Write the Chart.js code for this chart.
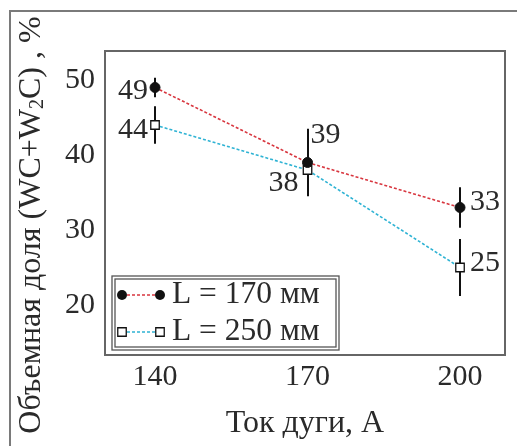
<!DOCTYPE html>
<html>
<head>
<meta charset="utf-8">
<script src="https://cdn.jsdelivr.net/npm/chart.js@4.4.1/dist/chart.umd.min.js"></script>
<style>
  body { margin: 0; background: #fff; }
</style>
</head>
<body>
<canvas id="chart" width="517" height="446"></canvas>
<script>
// arc current, A
const currents = [140, 170, 200];
// volume fraction (WC+W2C), %
const seriesL170 = [49, 39, 33];
const seriesL250 = [44, 38, 25];
// error bar half widths
const errL170 = [1.3, 4.5, 2.7];
const errL250 = [2.5, 1.5, 3.8];
const seriesNames = ['L = 170 мм', 'L = 250 мм'];
const xTicks = [140, 170, 200];
const yTicks = [20, 30, 40, 50];

// label offsets (px) from the point, with alignment
const labelOffsets = [
  [[-7, 4, 'right'], [3, -27, 'left'], [10, -5, 'left']],
  [[-7, 5, 'right'], [-9, 13, 'right'], [10, -4, 'left']]
];

const serif = '"Liberation Serif", "DejaVu Serif", serif';
const textColor = '#2a2a2a';

function toPoints(vals) {
  return currents.map((c, i) => ({ x: c, y: vals[i] }));
}

const errors = [errL170, errL250];

const decor = {
  id: 'decor',
  beforeDatasetsDraw(chart) {
    const ctx = chart.ctx;
    const xs = chart.scales.x, ys = chart.scales.y;
    ctx.save();
    ctx.strokeStyle = '#111';
    ctx.lineWidth = 2;
    chart.data.datasets.forEach((ds, di) => {
      ds.data.forEach((p, i) => {
        const e = errors[di][i];
        const px = Math.round(xs.getPixelForValue(p.x));
        ctx.beginPath();
        ctx.moveTo(px, ys.getPixelForValue(p.y + e));
        ctx.lineTo(px, ys.getPixelForValue(p.y - e));
        ctx.stroke();
      });
    });
    ctx.restore();
  },
  afterDraw(chart) {
    const ctx = chart.ctx;
    const a = chart.chartArea;
    const xs = chart.scales.x, ys = chart.scales.y;
    ctx.save();

    // outer frame
    ctx.strokeStyle = '#7a7a7a';
    ctx.lineWidth = 2;
    ctx.strokeRect(10, 11, 530, 460);

    // plot box
    ctx.strokeStyle = '#666';
    ctx.lineWidth = 2;
    ctx.strokeRect(a.left, a.top, a.right - a.left, a.bottom - a.top);

    // value labels
    ctx.fillStyle = textColor;
    ctx.font = '30px ' + serif;
    ctx.textBaseline = 'middle';
    chart.data.datasets.forEach((ds, di) => {
      ds.data.forEach((p, i) => {
        const o = labelOffsets[di][i];
        ctx.textAlign = o[2];
        ctx.fillText(String(p.y), xs.getPixelForValue(p.x) + o[0], ys.getPixelForValue(p.y) + o[1]);
      });
    });

    // legend
    const lx = 112, ly = 276, lw = 227, lh = 74;
    ctx.strokeStyle = '#555';
    ctx.lineWidth = 1.3;
    ctx.strokeRect(lx, ly, lw, lh);
    ctx.strokeRect(lx + 3, ly + 3, lw - 6, lh - 6);
    chart.data.datasets.forEach((ds, di) => {
      const y = 295 + di * 37;
      const x0 = 122, x1 = 160;
      ctx.save();
      ctx.strokeStyle = ds.borderColor;
      ctx.lineWidth = ds.borderWidth;
      ctx.setLineDash(ds.borderDash);
      ctx.beginPath();
      ctx.moveTo(x0, y);
      ctx.lineTo(x1, y);
      ctx.stroke();
      ctx.restore();
      [x0, x1].forEach(x => {
        ctx.beginPath();
        if (ds.pointStyle === 'circle') {
          ctx.arc(x, y, ds.pointRadius, 0, Math.PI * 2);
          ctx.fillStyle = ds.pointBackgroundColor;
          ctx.fill();
        } else {
          const s = ds.pointRadius * Math.SQRT1_2;
          ctx.rect(x - s, y - s, 2 * s, 2 * s);
          ctx.fillStyle = ds.pointBackgroundColor;
          ctx.fill();
          ctx.strokeStyle = ds.pointBorderColor;
          ctx.lineWidth = ds.pointBorderWidth;
          ctx.stroke();
        }
      });
      ctx.fillStyle = textColor;
      ctx.font = '31.5px ' + serif;
      ctx.textAlign = 'left';
      ctx.textBaseline = 'middle';
      ctx.fillText(ds.label, 172, y);
    });

    // y axis title with subscript
    const parts = [['Объемная доля (WC+W', 32, 0], ['2', 20, 6], ['C) , %', 32, 0]];
    let total = 0;
    parts.forEach(pt => { ctx.font = pt[1] + 'px ' + serif; total += ctx.measureText(pt[0]).width; });
    ctx.translate(32, 225);
    ctx.rotate(-Math.PI / 2);
    ctx.textAlign = 'left';
    ctx.textBaseline = 'middle';
    let cx = -total / 2;
    parts.forEach(pt => {
      ctx.font = pt[1] + 'px ' + serif;
      ctx.fillText(pt[0], cx, pt[2]);
      cx += ctx.measureText(pt[0]).width;
    });
    ctx.restore();
  }
};

new Chart(document.getElementById('chart'), {
  type: 'line',
  data: {
    datasets: [
      {
        label: seriesNames[0],
        data: toPoints(seriesL170),
        borderColor: '#d8363f',
        borderWidth: 1.6,
        borderDash: [3, 2],
        pointStyle: 'circle',
        pointRadius: 5,
        pointBackgroundColor: '#111',
        pointBorderColor: '#111',
        pointBorderWidth: 1
      },
      {
        label: seriesNames[1],
        data: toPoints(seriesL250),
        borderColor: '#2fb3d4',
        borderWidth: 1.6,
        borderDash: [3, 2],
        pointStyle: 'rect',
        pointRadius: 6,
        pointBackgroundColor: '#fff',
        pointBorderColor: '#111',
        pointBorderWidth: 1.3
      }
    ]
  },
  options: {
    responsive: false,
    animation: false,
    devicePixelRatio: 1,
    layout: { padding: { top: 51, right: 12, left: 0, bottom: 0 } },
    plugins: { legend: { display: false }, tooltip: { enabled: false } },
    scales: {
      x: {
        type: 'linear',
        min: 130.16,
        max: 208.85,
        afterBuildTicks: s => { s.ticks = xTicks.map(v => ({ value: v })); },
        afterFit: s => { s.height = 91; },
        grid: { display: false, drawTicks: false },
        border: { display: false },
        ticks: { color: textColor, font: { family: serif, size: 30 }, padding: 4 },
        title: {
          display: true,
          text: 'Ток дуги, А',
          color: textColor,
          font: { family: serif, size: 32 },
          padding: { top: 0, bottom: 3 }
        }
      },
      y: {
        min: 13.33,
        max: 53.87,
        afterBuildTicks: s => { s.ticks = yTicks.map(v => ({ value: v })); },
        afterFit: s => { s.width = 105; },
        grid: { display: false, drawTicks: false },
        border: { display: false },
        ticks: { color: textColor, font: { family: serif, size: 30 }, padding: 10 }
      }
    }
  },
  plugins: [decor]
});
</script>
</body>
</html>
